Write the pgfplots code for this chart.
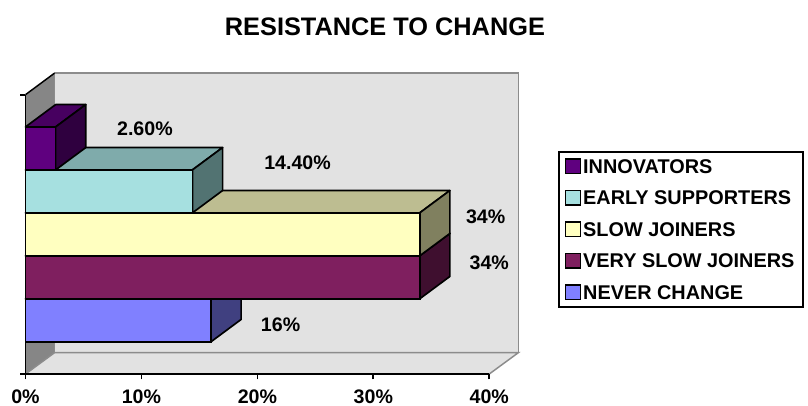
\documentclass[border=0pt]{standalone}
\usepackage{fontspec}
\setmainfont{Liberation Sans}
\usepackage{pgfplots}
\pgfplotsset{compat=1.18}
\definecolor{wallc}{HTML}{E2E2E2}
\definecolor{wallside}{HTML}{868686}
\definecolor{wallline}{HTML}{8C8C8C}
\definecolor{nevF}{HTML}{8080FF}\definecolor{nevT}{HTML}{6060BF}\definecolor{nevS}{HTML}{404080}
\definecolor{vslF}{HTML}{7F1F5F}\definecolor{vslT}{HTML}{5F1747}\definecolor{vslS}{HTML}{3F0F2F}
\definecolor{sloF}{HTML}{FFFFC0}\definecolor{sloT}{HTML}{BDBD91}\definecolor{sloS}{HTML}{80805F}
\definecolor{earF}{HTML}{A6E0E0}\definecolor{earT}{HTML}{7FABAB}\definecolor{earS}{HTML}{527372}
\definecolor{innF}{HTML}{5F007F}\definecolor{innT}{HTML}{470060}\definecolor{innS}{HTML}{2F003F}
\newcommand{\lab}{\fontsize{14.7}{16}\selectfont\bfseries}
\newcommand{\leglab}{\fontsize{14.9}{16}\selectfont\bfseries}
\pgfplotsset{
  frontbar/.style={xbar,bar width=32.25pt,bar shift=0pt,draw=black,line width=1.25pt,
    legend image code/.code={\draw[fill=#1,draw=black,line width=1.1pt] (0pt,-5.5pt) rectangle (11pt,5.5pt);},
    fill=#1},
}
% value, category position, top colour, side colour
\newcommand{\barfaces}[4]{%
  \pgfmathsetmacro{\lo}{#2-0.5}\pgfmathsetmacro{\hi}{#2+0.5}%
  \pgfmathsetmacro{\hib}{\hi+0.52}\pgfmathsetmacro{\lob}{\lo+0.52}\pgfmathsetmacro{\vb}{#1+2.6}%
  \addplot[forget plot,fill=#3,draw=black,line width=1.25pt,line join=round] coordinates {(0,\hi)(#1,\hi)(\vb,\hib)(2.6,\hib)} -- cycle;
  \addplot[forget plot,fill=#4,draw=black,line width=1.25pt,line join=round] coordinates {(#1,\lo)(\vb,\lob)(\vb,\hib)(#1,\hi)} -- cycle;
}
\begin{document}
\begin{tikzpicture}
\path[use as bounding box] (-19.125pt,-24pt) rectangle (586.875pt,280.5pt);
\begin{axis}[
  scale only axis, width=347.85pt, height=209.5pt,
  xmin=0, xmax=40, ymin=-1.25, ymax=5.25,
  clip=false, axis on top=true,
  axis lines*=left, axis line style={-, black, line width=1.3pt},
  xtick={0,10,20,30,40}, xticklabels={0\%,10\%,20\%,30\%,40\%},
  ytick={-1.25,5.25}, yticklabels={,},
  tick align=outside, major tick length=4pt,
  tick style={black, line width=1.3pt},
  xticklabel style={font=\lab, yshift=-4.5pt},
  title={\fontsize{19}{20}\selectfont\bfseries RESISTANCE TO CHANGE},
  title style={at={(0.775,1.242)}, anchor=center, yshift=-6pt},
  reverse legend,
  legend cell align=left,
  legend style={
    at={(1.148,0.7995)}, anchor=north west,
    draw=black, line width=1.5pt, fill=white,
    font=\leglab, row sep=11.55pt, inner xsep=4.5pt, inner ysep=4.9pt,
    nodes={text height=10.8pt, text depth=0.5pt, inner xsep=1.6pt, inner ysep=0pt},
  },
]
% walls
\addplot[forget plot,fill=wallside,draw=none] coordinates {(0,-1.25)(2.5,-0.755)(2.5,5.75)(0,5.25)} -- cycle;
\addplot[forget plot,fill=wallc,draw=wallline,line width=1.1pt] coordinates {(2.5,-0.755)(42.5,-0.755)(42.5,5.75)(2.5,5.75)} -- cycle;
\addplot[forget plot,fill=wallc,draw=none] coordinates {(0,-1.25)(40,-1.25)(42.5,-0.755)(2.5,-0.755)} -- cycle;
\addplot[forget plot,draw=wallline,line width=1.1pt] coordinates {(40,-1.25)(42.5,-0.755)(2.5,-0.755)(0,-1.25)};
\addplot[forget plot,draw=black,line width=1.1pt] coordinates {(0,5.25)(2.5,5.75)};
% bars, from the bottom upwards
\barfaces{16}{0}{nevT}{nevS}
\addplot[frontbar=nevF] coordinates {(16,0)};
\addlegendentry{NEVER CHANGE}
\barfaces{34}{1}{vslT}{vslS}
\addplot[frontbar=vslF] coordinates {(34,1)};
\addlegendentry{VERY SLOW JOINERS}
\barfaces{34}{2}{sloT}{sloS}
\addplot[frontbar=sloF] coordinates {(34,2)};
\addlegendentry{SLOW JOINERS}
\barfaces{14.4}{3}{earT}{earS}
\addplot[frontbar=earF] coordinates {(14.4,3)};
\addlegendentry{EARLY SUPPORTERS}
\barfaces{2.6}{4}{innT}{innS}
\addplot[frontbar=innF] coordinates {(2.6,4)};
\addlegendentry{INNOVATORS}
% data labels
\node[font=\lab] at (axis cs:10.3,4.45) {2.60\%};
\node[font=\lab] at (axis cs:23.46,3.67) {14.40\%};
\node[font=\lab] at (axis cs:39.69,2.41) {34\%};
\node[font=\lab] at (axis cs:40.0,1.34) {34\%};
\node[font=\lab] at (axis cs:22.0,-0.10) {16\%};
\end{axis}
\end{tikzpicture}
\end{document}
